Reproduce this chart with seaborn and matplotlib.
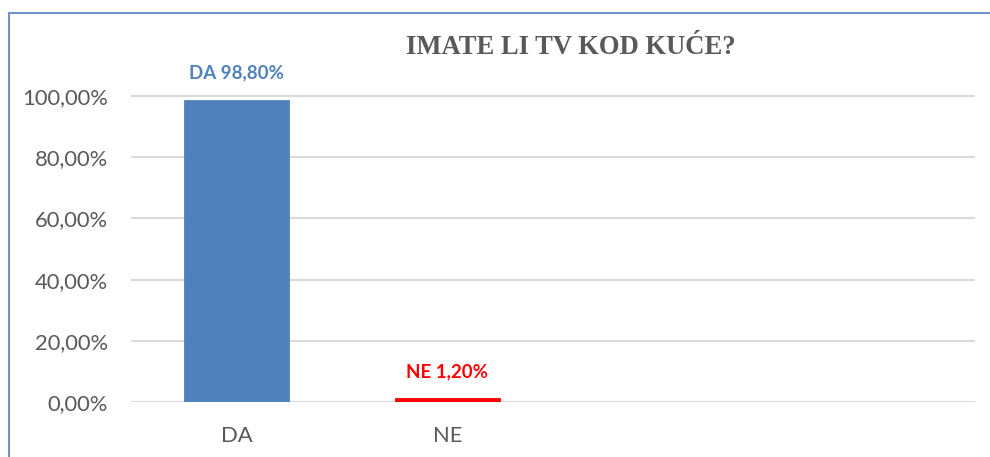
import numpy as np
import pandas as pd
import seaborn as sns
import matplotlib.pyplot as plt
from matplotlib.lines import Line2D
from matplotlib.ticker import FuncFormatter

# data
categories = ["DA", "NE"]
values = [98.8, 1.2]
bar_colors = ["#4f81bd", "#ff0000"]
empty_slots = ["_c3", "_c4"]          # excel keeps two empty category slots
y_ticks = [0, 20, 40, 60, 80, 100]
title = "IMATE LI TV KOD KUĆE?"

sns.set_style("white")
plt.rcParams["font.family"] = ["Lato", "DejaVu Sans"]

df = pd.DataFrame({"odgovor": categories, "postotak": values})

fig = plt.figure(figsize=(9.9, 4.57), dpi=100)
ax = fig.add_axes([131 / 990, 1 - 402 / 457, 844 / 990, (402 - 89.9) / 457])

sns.barplot(data=df, x="odgovor", y="postotak", hue="odgovor",
            order=categories + empty_slots, palette=bar_colors,
            width=0.5, legend=False, ax=ax, saturation=1, linewidth=0.6,
            edgecolor=None)
for p, col in zip(ax.patches, bar_colors):
    p.set_edgecolor(col)

ax.set_ylim(0, 102)
ax.set_xlim(-0.5, 3.5)
ax.set_yticks(y_ticks)
ax.yaxis.set_major_formatter(FuncFormatter(lambda v, p: f"{v:.2f}%".replace(".", ",")))
ax.set_xticks(range(4))
ax.set_xticklabels(categories + ["", ""])
ax.grid(axis="y", color="#d9d9d9", linewidth=1.5, zorder=0)
ax.set_axisbelow(True)
for s in ax.spines.values():
    s.set_visible(False)
ax.tick_params(axis="y", length=0, pad=16.5, labelsize=15.8, labelcolor="#595959")
ax.tick_params(axis="x", length=0, pad=17, labelsize=15.8, labelcolor="#595959")
ax.set_xlabel("")
ax.set_ylabel("")

# value labels above bars
for i, (cat, val, col) in enumerate(zip(categories, values, bar_colors)):
    ax.annotate(f"{cat} {val:.2f}%".replace(".", ","), (i, val),
                xytext=(0, 13), textcoords="offset points",
                ha="center", va="bottom", fontsize=13.5,
                fontweight="bold", color=col)

fig.text(571 / 990, 1 - 47 / 457, title, ha="center", va="center",
         fontsize=19.2, fontweight="bold", color="#595959",
         family=["Liberation Serif", "DejaVu Serif"])

# chart frame (only top/left visible in the crop)
fig.add_artist(Line2D([8.5 / 990, 1], [1 - 12.5 / 457] * 2, color="#6f95c8", lw=1.5))
fig.add_artist(Line2D([8.5 / 990] * 2, [0, 1 - 12.5 / 457], color="#6f95c8", lw=1.5))

fig.savefig("out.png", dpi=100)
